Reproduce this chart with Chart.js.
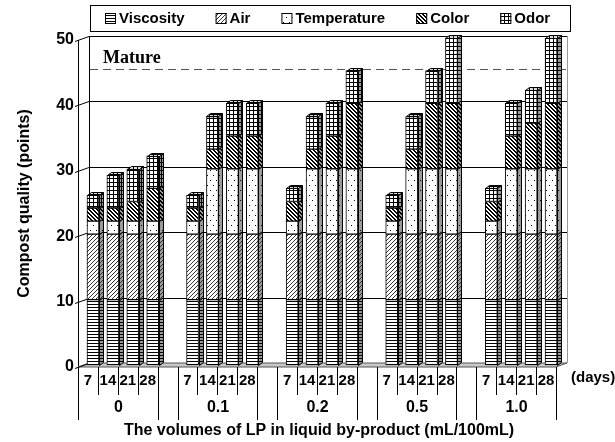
<!DOCTYPE html>
<html lang="en">
<head>
    <meta charset="UTF-8">
    <title>Compost quality</title>
    <script src="https://cdn.jsdelivr.net/npm/chart.js"></script>
    <style>
        body { margin: 0; background: #fff; }
        #wrap { width: 615px; height: 442px; }
    </style>
</head>
<body>
    <div id="wrap"><canvas id="compostChart" width="615" height="442"></canvas></div>
    <script>
        // data
        var groups = ['0', '0.1', '0.2', '0.5', '1.0'];
        var days = ['7', '14', '21', '28'];
        var seriesNames = ['Viscosity', 'Air', 'Temperature', 'Color', 'Odor'];
        var viscosity   = [10, 10, 10, 10,  10, 10, 10, 10,  10, 10, 10, 10,  10, 10, 10, 10,  10, 10, 10, 10];
        var air         = [10, 10, 10, 10,  10, 10, 10, 10,  10, 10, 10, 10,  10, 10, 10, 10,  10, 10, 10, 10];
        var temperature = [ 2,  2,  2,  2,   2, 10, 10, 10,   2, 10, 10, 10,   2, 10, 10, 10,   2, 10, 10, 10];
        var color       = [ 2,  2,  3,  5,   2,  3,  5,  5,   3,  3,  5, 10,   2,  3, 10, 10,   3,  5,  7, 10];
        var odor        = [ 2,  5,  5,  5,   2,  5,  5,  5,   2,  5,  5,  5,   2,  5,  5, 10,   2,  5,  5, 10];
        var yTicks = [0, 10, 20, 30, 40, 50];
        var matureLevel = 45;

        var FONT = '"Liberation Sans", Arial, sans-serif';
        var DX = 11, DY = 4;   // depth of back wall
        var BX = 5, BY = 2;    // bars stand half way into the floor
        var SX = 4, SY = 3;    // depth of each bar

        // one empty slot between groups
        var labels = [];
        groups.forEach(function(g, gi) {
            if (gi > 0) labels.push('');
            days.forEach(function(d) { labels.push(d); });
        });
        function spread(arr) {
            var out = [];
            groups.forEach(function(g, gi) {
                if (gi > 0) out.push(null);
                for (var k = 0; k < days.length; k++) out.push(arr[gi * days.length + k]);
            });
            return out;
        }

        function makePattern(type, bg) {
            var c = document.createElement('canvas');
            var w = 4, h = 4;
            if (type === 'h') { w = 4; h = 3; }
            if (type === 'dots') { w = 6; h = 10; }
            c.width = w; c.height = h;
            var p = c.getContext('2d');
            p.fillStyle = bg;
            p.fillRect(0, 0, w, h);
            p.fillStyle = '#000';
            if (type === 'h') {
                p.fillRect(0, 0, w, 1);
            } else if (type === 'fwd') {
                p.fillStyle = '#333';
                for (var i = 0; i < 4; i++) p.fillRect(3 - i, i, 1, 1);
            } else if (type === 'dots') {
                p.fillRect(1, 2, 1, 1);
                p.fillRect(4, 7, 1, 1);
            } else if (type === 'back') {
                for (var j = 0; j < 4; j++) { p.fillRect(j, j, 1, 1); p.fillRect((j + 1) % 4, j, 1, 1); }
            } else if (type === 'grid') {
                p.fillRect(0, 0, w, 1);
                p.fillRect(0, 0, 1, h);
            }
            return p.createPattern(c, 'repeat');
        }

        var patternTypes = ['h', 'fwd', 'dots', 'back', 'grid'];
        var frontPatterns = patternTypes.map(function(t) { return makePattern(t, '#ffffff'); });
        var sidePatterns = patternTypes.map(function(t) { return makePattern(t, '#9a9a9a'); });
        var capPatterns = patternTypes.map(function(t) { return makePattern(t, '#dcdcdc'); });
        var seriesData = [viscosity, air, temperature, color, odor];

        var frame3d = {
            id: 'frame3d',
            beforeDatasetsDraw: function(chart) {
                var ctx = chart.ctx, a = chart.chartArea, y = chart.scales.y;
                ctx.save();
                // floor
                ctx.beginPath();
                ctx.moveTo(a.left, a.bottom);
                ctx.lineTo(a.right, a.bottom);
                ctx.lineTo(a.right + DX, a.bottom - DY);
                ctx.lineTo(a.left + DX, a.bottom - DY);
                ctx.closePath();
                ctx.fillStyle = '#c8c8c8';
                ctx.fill();
                ctx.strokeStyle = '#555';
                ctx.lineWidth = 1;
                ctx.stroke();

                // back wall edges
                ctx.strokeStyle = '#000';
                ctx.beginPath();
                ctx.moveTo(a.left + DX + 0.5, a.top - DY);
                ctx.lineTo(a.left + DX + 0.5, a.bottom - DY);
                ctx.stroke();
                ctx.strokeStyle = '#999';
                ctx.beginPath();
                ctx.moveTo(a.right + DX + 0.5, a.top - DY);
                ctx.lineTo(a.right + DX + 0.5, a.bottom - DY);
                ctx.stroke();

                // grid lines on the wall, slanted tick marks
                ctx.strokeStyle = '#000';
                yTicks.forEach(function(v) {
                    var py = Math.round(y.getPixelForValue(v)) + 0.5;
                    ctx.beginPath();
                    ctx.moveTo(a.left - 3, py + 1);
                    ctx.lineTo(a.left + DX, py - DY);
                    if (v > 0) ctx.lineTo(a.right + DX, py - DY);
                    ctx.stroke();
                });

                // mature level
                var my = Math.round(y.getPixelForValue(matureLevel)) + 0.5 - DY;
                ctx.strokeStyle = '#555';
                ctx.setLineDash([8, 5]);
                ctx.beginPath();
                ctx.moveTo(a.left + DX + 1, my);
                ctx.lineTo(a.right + DX, my);
                ctx.stroke();
                ctx.setLineDash([]);
                ctx.fillStyle = '#000';
                ctx.font = 'bold 18px "Liberation Serif", "Times New Roman", serif';
                ctx.textAlign = 'left';
                ctx.textBaseline = 'alphabetic';
                ctx.fillText('Mature', a.left + 25, my - 7);

                ctx.translate(BX, -BY);
            },
            afterDatasetsDraw: function(chart) {
                var ctx = chart.ctx;
                var last = chart.data.datasets.length - 1;
                ctx.strokeStyle = '#000';
                ctx.lineWidth = 1;
                chart.data.datasets.forEach(function(ds, di) {
                    var meta = chart.getDatasetMeta(di);
                    meta.data.forEach(function(bar, i) {
                        if (ds.data[i] == null) return;
                        var p = bar.getProps(['x', 'y', 'base', 'width'], true);
                        var l = Math.round(p.x - p.width / 2) + 0.5;
                        var r = Math.round(p.x + p.width / 2) + 0.5;
                        var t = Math.round(p.y) + 0.5, b = Math.round(p.base) + 0.5;
                        ctx.beginPath();
                        ctx.moveTo(r, t);
                        ctx.lineTo(r + SX, t - SY);
                        ctx.lineTo(r + SX, b - SY);
                        ctx.lineTo(r, b);
                        ctx.closePath();
                        ctx.fillStyle = sidePatterns[di];
                        ctx.fill();
                        ctx.stroke();
                        if (di === last) {
                            ctx.beginPath();
                            ctx.moveTo(l, t);
                            ctx.lineTo(l + SX, t - SY);
                            ctx.lineTo(r + SX, t - SY);
                            ctx.lineTo(r, t);
                            ctx.closePath();
                            ctx.fillStyle = capPatterns[di];
                            ctx.fill();
                            ctx.stroke();
                        }
                    });
                });
                ctx.restore();
            },
            afterDraw: function(chart) {
                var ctx = chart.ctx, a = chart.chartArea, x = chart.scales.x;
                var slot = x.getPixelForValue(1) - x.getPixelForValue(0);
                ctx.save();
                ctx.strokeStyle = '#000';
                ctx.lineWidth = 1;
                ctx.fillStyle = '#000';
                ctx.textAlign = 'center';
                ctx.textBaseline = 'middle';

                // two-level category labels
                groups.forEach(function(g, gi) {
                    var first = gi * (days.length + 1);
                    var lastIdx = first + days.length - 1;
                    var gl = Math.round(x.getPixelForValue(first) - slot / 2) + 0.5;
                    var gr = Math.round(x.getPixelForValue(lastIdx) + slot / 2) + 0.5;
                    ctx.beginPath();
                    ctx.moveTo(gl, a.bottom); ctx.lineTo(gl, a.bottom + 53);
                    ctx.moveTo(gr, a.bottom); ctx.lineTo(gr, a.bottom + 53);
                    for (var k = 1; k < days.length; k++) {
                        var sx = Math.round(x.getPixelForValue(first + k) - slot / 2) + 0.5;
                        ctx.moveTo(sx, a.bottom); ctx.lineTo(sx, a.bottom + 28);
                    }
                    ctx.stroke();
                    ctx.font = 'bold 15px ' + FONT;
                    days.forEach(function(d, k) {
                        ctx.fillText(d, x.getPixelForValue(first + k), a.bottom + 14);
                    });
                    ctx.font = 'bold 16px ' + FONT;
                    ctx.fillText(g, (gl + gr) / 2, a.bottom + 41);
                });
                ctx.font = 'bold 15px ' + FONT;
                ctx.textAlign = 'left';
                ctx.fillText('(days)', a.right + 15, a.bottom + 11);

                // axis titles
                ctx.textAlign = 'center';
                ctx.font = 'bold 16px ' + FONT;
                ctx.fillText('The volumes of LP in liquid by-product (mL/100mL)', (a.left + a.right) / 2 + 2, a.bottom + 64);
                ctx.save();
                ctx.translate(25, (a.top + a.bottom) / 2);
                ctx.rotate(-Math.PI / 2);
                ctx.fillText('Compost quality (points)', 0, 0);
                ctx.restore();

                // legend box
                ctx.strokeRect(90.5, 5.5, 480, 26);
                ctx.font = 'bold 15px ' + FONT;
                ctx.textAlign = 'left';
                var lx = 105;
                seriesNames.forEach(function(name, i) {
                    ctx.fillStyle = frontPatterns[i];
                    ctx.fillRect(lx, 13, 11, 11);
                    ctx.strokeRect(lx + 0.5, 13.5, 10, 10);
                    ctx.fillStyle = '#000';
                    ctx.fillText(name, lx + 14, 19);
                    lx += 14 + ctx.measureText(name).width + 31;
                });
                ctx.restore();
            }
        };

        var ctx = document.getElementById('compostChart').getContext('2d');
        var compostChart = new Chart(ctx, {
            type: 'bar',
            data: {
                labels: labels,
                datasets: seriesNames.map(function(name, i) {
                    return {
                        label: name,
                        data: spread(seriesData[i]),
                        backgroundColor: frontPatterns[i],
                        borderColor: '#000',
                        borderWidth: 1,
                        borderSkipped: false,
                        barThickness: 12,
                        clip: false
                    };
                })
            },
            options: {
                responsive: false,
                animation: false,
                layout: { padding: { left: 0, right: 59, top: 40, bottom: 0 } },
                plugins: {
                    legend: { display: false },
                    tooltip: { enabled: false }
                },
                scales: {
                    x: {
                        stacked: true,
                        grid: { display: false, drawTicks: false },
                        border: { display: false },
                        ticks: { display: false },
                        afterFit: function(scale) { scale.height = 75; }
                    },
                    y: {
                        stacked: true,
                        min: 0,
                        max: 50,
                        grid: { display: false, drawTicks: false },
                        border: { display: true, color: '#000', width: 1 },
                        ticks: {
                            stepSize: 10,
                            padding: 4,
                            color: '#000',
                            font: { family: FONT, size: 16, weight: 'bold' }
                        },
                        afterFit: function(scale) { scale.width = 78; }
                    }
                }
            },
            plugins: [frame3d]
        });
    </script>
</body>
</html>
